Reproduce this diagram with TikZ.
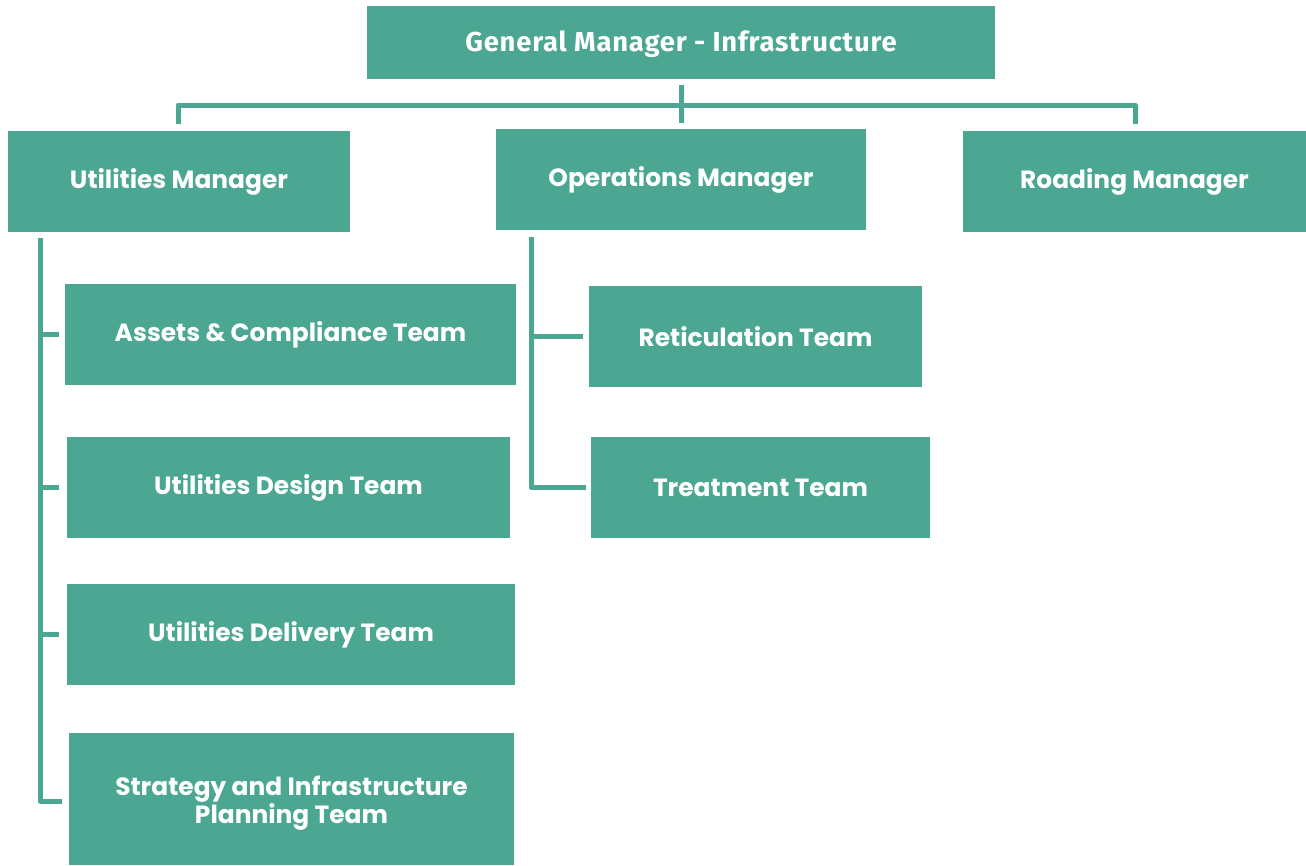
\documentclass[tikz,border=0pt]{standalone}
\usepackage{fontspec}
\setmainfont{Poppins}
\newfontfamily\topfont[LetterSpace=3]{Fira Sans}
\usetikzlibrary{calc}
\definecolor{teal}{RGB}{75,167,146}
\begin{document}
\begin{tikzpicture}[x=1bp,y=-1bp,
  box/.style={fill=teal,inner sep=0pt,text=white,
    font=\fontsize{25}{28}\selectfont\bfseries,align=center},
  link/.style={draw=teal,line width=5bp,line join=round}]
\useasboundingbox (0,0) rectangle (1306,865);
% boxes given by their corners; optional argument moves the label
\newcommand\orgbox[7][]{%
  \path[box] (#3,#4) rectangle (#5,#6);
  \node[box,fill=none,minimum width={#5-#3},minimum height={#6-#4},#1] (#2) at ({(#3+#5)/2},{(#4+#6)/2}) {#7};}
\orgbox[yshift=-2bp]{gm}{367}{6}{995}{79}{\topfont\fontsize{27.5}{30}\selectfont\bfseries General Manager - Infrastructure}
\orgbox{um}{8}{131}{350}{232}{Utilities Manager}
\orgbox{om}{496}{129}{866}{230}{Operations Manager}
\orgbox{rm}{963}{131}{1306}{232}{Roading Manager}
\orgbox{ac}{65}{284}{516}{385}{Assets \& Compliance Team}
\orgbox{ud}{67}{437}{510}{538}{Utilities Design Team}
\orgbox{dl}{67}{584}{515}{685}{Utilities Delivery Team}
\orgbox[yshift=-4bp]{sp}{69}{733}{514}{865}{Strategy and Infrastructure\\Planning Team}
\orgbox{rt}{589}{286}{922}{387}{Reticulation Team}
\orgbox{tt}{591}{437}{930}{538}{Treatment Team}
% top-level connectors
\coordinate (gmtop) at (681,85);
\coordinate (bar) at (681,105);
\coordinate (umtop) at (178,124);
\coordinate (rmtop) at (1135,124);
\coordinate (omtop) at (681,123);
\draw[link] (gmtop) -- (omtop);
\draw[link] (umtop) |- (bar) -| (rmtop);
% utilities branch
\coordinate (ut) at (40,238);
\coordinate (ub) at (62,801);
\draw[link] (ut) |- (ub);
\draw[link] (ut|-ac.west) -- ($(ac.west)+(-7,0)$);
\draw[link] (ut|-ud.west) -- ($(ud.west)+(-9,0)$);
\draw[link] (ut|-dl.west) -- ($(dl.west)+(-9,0)$);
% operations branch
\coordinate (ot) at (531,237);
\draw[link] (ot) |- ($(tt.west)+(-5,0)$);
\draw[link] (ot|-rt.west) -- ($(rt.west)+(-6,0)$);
\end{tikzpicture}
\end{document}
